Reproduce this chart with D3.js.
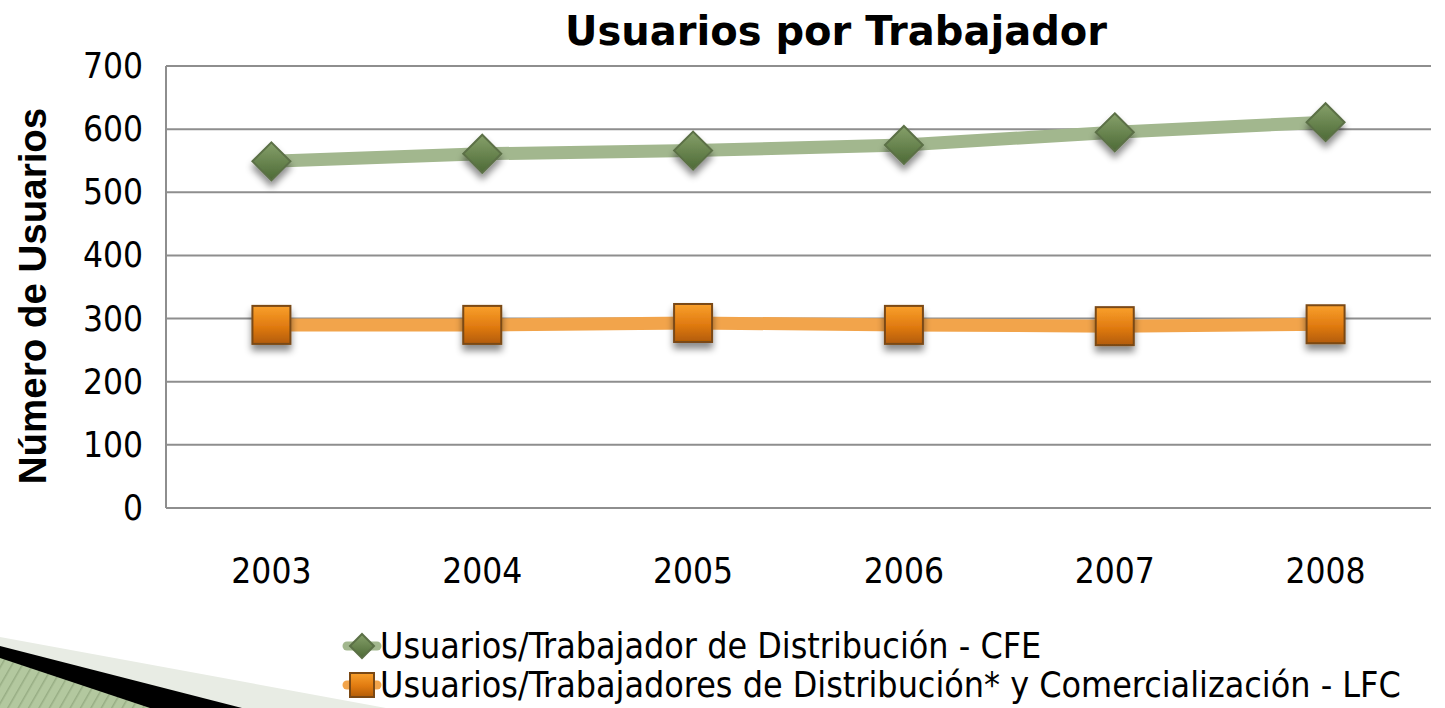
<!DOCTYPE html>
<meta charset="utf-8">
<title>Usuarios por Trabajador</title>
<style>
body { margin: 0; background: #fff; }
svg { display: block; }
text { fill: #000; }
</style>
<svg></svg>
<script src="https://cdn.jsdelivr.net/npm/d3@7"></script>
<script>
// data
var years = ["2003", "2004", "2005", "2006", "2007", "2008"];
var cfe = [549, 561, 566, 575, 595, 611];
var lfc = [290, 290, 293, 290, 288, 291];
var seriesNames = ["Usuarios/Trabajador de Distribución - CFE",
                   "Usuarios/Trabajadores de Distribución* y Comercialización - LFC"];
var yTicks = [0, 100, 200, 300, 400, 500, 600, 700];

var width = 1445, height = 708;
var margin = {top: 66, right: 14, bottom: 200, left: 166};

var svg = d3.select("svg")
    .attr("width", width)
    .attr("height", height);

var defs = svg.append("defs");

// shadow under markers
var shadow = defs.append("filter").attr("id", "shadow")
    .attr("x", "-50%").attr("y", "-50%").attr("width", "200%").attr("height", "200%");
shadow.append("feDropShadow")
    .attr("dx", 0).attr("dy", 6).attr("stdDeviation", 3.5)
    .attr("flood-color", "#000").attr("flood-opacity", 0.45);

// marker gradients
var gGreen = defs.append("linearGradient").attr("id", "gGreen")
    .attr("x1", 0).attr("y1", 0).attr("x2", 0).attr("y2", 1);
gGreen.append("stop").attr("offset", "0%").attr("stop-color", "#86a06a");
gGreen.append("stop").attr("offset", "100%").attr("stop-color", "#4d6a36");
var gOrange = defs.append("linearGradient").attr("id", "gOrange")
    .attr("x1", 0).attr("y1", 0).attr("x2", 0).attr("y2", 1);
gOrange.append("stop").attr("offset", "0%").attr("stop-color", "#f9a02c");
gOrange.append("stop").attr("offset", "55%").attr("stop-color", "#e07a10");
gOrange.append("stop").attr("offset", "100%").attr("stop-color", "#b25c06");

// stripes for the slide decoration
var pat = defs.append("pattern").attr("id", "stripes")
    .attr("patternUnits", "userSpaceOnUse")
    .attr("width", 9).attr("height", 9)
    .attr("patternTransform", "rotate(30)");
pat.append("rect").attr("width", 9).attr("height", 9).attr("fill", "#b3c89f");
pat.append("rect").attr("width", 1.5).attr("height", 9).attr("fill", "#97ad84");

// slide decoration bottom left
svg.append("polygon").attr("points", "0,637 386,708 0,708").attr("fill", "#e8ece4");
svg.append("polygon").attr("points", "0,646 242,708 0,708").attr("fill", "#000");
svg.append("polygon").attr("points", "0,658 150,708 0,708").attr("fill", "url(#stripes)");

var x = d3.scaleBand()
    .domain(years)
    .range([margin.left, width - margin.right]);

var y = d3.scaleLinear()
    .domain([0, 700])
    .range([508, margin.top]);

// gridlines
svg.append("g").selectAll("line")
    .data(yTicks)
  .enter().append("line")
    .attr("x1", margin.left)
    .attr("x2", width - margin.right)
    .attr("y1", function(d) { return y(d); })
    .attr("y2", function(d) { return y(d); })
    .style("stroke", "#8e8e8e")
    .style("stroke-width", 2);

// left axis line
svg.append("line")
    .attr("x1", margin.left).attr("x2", margin.left)
    .attr("y1", y(700)).attr("y2", y(0))
    .style("stroke", "#8e8e8e")
    .style("stroke-width", 2);

// y tick labels
svg.append("g").selectAll("text")
    .data(yTicks)
  .enter().append("text")
    .attr("x", 143)
    .attr("y", function(d) { return y(d) + 12; })
    .style("text-anchor", "end")
    .style("font-family", "'DejaVu Sans Condensed', 'DejaVu Sans', sans-serif")
    .style("font-size", "35px")
    .text(function(d) { return d; });

// x tick labels
svg.append("g").selectAll("text")
    .data(years)
  .enter().append("text")
    .attr("x", function(d) { return x(d) + x.bandwidth() / 2; })
    .attr("y", 583)
    .style("text-anchor", "middle")
    .style("font-family", "'DejaVu Sans Condensed', 'DejaVu Sans', sans-serif")
    .style("font-size", "35px")
    .text(function(d) { return d; });

// title
svg.append("text")
    .attr("x", 836)
    .attr("y", 45)
    .style("text-anchor", "middle")
    .style("font-family", "'DejaVu Sans', sans-serif")
    .style("font-weight", "bold")
    .style("font-size", "40px")
    .text("Usuarios por Trabajador");

// y axis label
svg.append("text")
    .attr("transform", "translate(46,296) rotate(-90)")
    .style("text-anchor", "middle")
    .style("font-family", "'Liberation Sans', Arial, sans-serif")
    .style("font-weight", "bold")
    .style("font-size", "38.5px")
    .text("Número de Usuarios");

var cx = function(d, i) { return x(years[i]) + x.bandwidth() / 2; };

var line = d3.line()
    .x(function(d, i) { return cx(d, i); })
    .y(function(d) { return y(d); });

svg.append("path")
    .datum(cfe)
    .attr("d", line)
    .style("fill", "none")
    .style("stroke", "#a2b78e")
    .style("stroke-width", 13);

svg.append("path")
    .datum(lfc)
    .attr("d", line)
    .style("fill", "none")
    .style("stroke", "#f2a44b")
    .style("stroke-width", 13);

function diamond(g, s) {
  g.append("path")
    .attr("d", "M0," + (-s) + "L" + s + ",0L0," + s + "L" + (-s) + ",0Z")
    .style("fill", "url(#gGreen)")
    .style("stroke", "#5b7046")
    .style("stroke-width", 2)
    .attr("filter", "url(#shadow)");
}
function square(g, s) {
  g.append("rect")
    .attr("x", -s).attr("y", -s)
    .attr("width", 2 * s).attr("height", 2 * s)
    .style("fill", "url(#gOrange)")
    .style("stroke", "#7a4814")
    .style("stroke-width", 2)
    .attr("filter", "url(#shadow)");
}

svg.append("g").selectAll("g")
    .data(cfe)
  .enter().append("g")
    .attr("transform", function(d, i) { return "translate(" + cx(d, i) + "," + y(d) + ")"; })
    .each(function() { diamond(d3.select(this), 19); });

svg.append("g").selectAll("g")
    .data(lfc)
  .enter().append("g")
    .attr("transform", function(d, i) { return "translate(" + cx(d, i) + "," + y(d) + ")"; })
    .each(function() { square(d3.select(this), 19); });

// legend
var legendY = [646, 685];
var legend = svg.append("g").selectAll("g")
    .data(seriesNames)
  .enter().append("g")
    .attr("transform", function(d, i) { return "translate(0," + legendY[i] + ")"; });

legend.append("line")
    .attr("x1", 347).attr("x2", 377)
    .style("stroke", function(d, i) { return i === 0 ? "#a2b78e" : "#f2a44b"; })
    .style("stroke-width", 9)
    .style("stroke-linecap", "round");

legend.each(function(d, i) {
  var g = d3.select(this).append("g").attr("transform", "translate(362,0)");
  if (i === 0) diamond(g, 12); else square(g, 12);
  g.select("*").attr("filter", null);
});

legend.append("text")
    .attr("x", 380)
    .attr("y", 12)
    .style("font-family", "'DejaVu Sans Condensed', 'DejaVu Sans', sans-serif")
    .style("font-size", "35.5px")
    .text(function(d) { return d; });
</script>
